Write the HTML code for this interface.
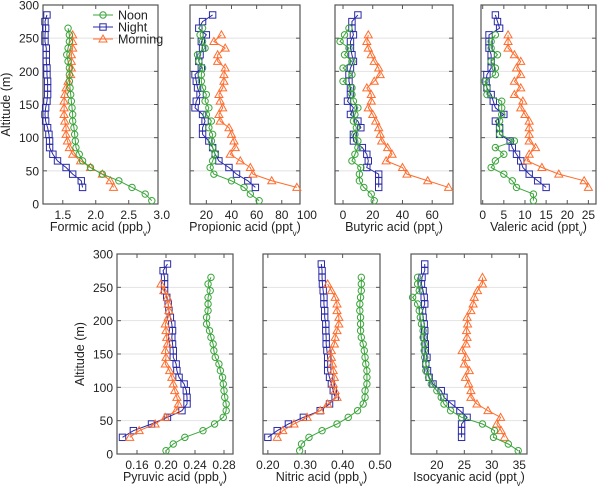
<!DOCTYPE html>
<html><head><meta charset="utf-8">
<style>
html,body{margin:0;padding:0;background:#fff;}
svg text{font-family:"Liberation Sans",Arial,sans-serif;fill:#222;}
</style></head>
<body>
<svg id="chart" width="600" height="491" viewBox="0 0 600 491" xmlns="http://www.w3.org/2000/svg"></svg>
<script>
// altitudes (m)
const altNoon = [5,15,25,35,45,55,65,75,85,95,105,115,125,135,145,155,165,175,185,195,205,215,225,235,245,255,265];
const altNight = [25,35,45,55,65,75,85,95,105,115,125,135,145,155,165,175,185,195,205,215,225,235,245,255,265,275,285];
const altMorning = [25,35,45,55,65,75,85,95,105,115,125,135,145,155,165,175,185,195,205,215,225,235,245,255];
const altMorningIso = [25,35,45,55,65,75,85,95,105,115,125,135,145,155,165,175,185,195,205,215,225,235,245,255,265];
const altNoonVal = [5,15,25,35,45,55,65,75,85,95,105,115,125,135,145,155,165,175,185,195,205,215,225,235,245,255];

// Formic acid (ppbv)
const formicNoon = [2.85,2.75,2.55,2.35,2.1,1.92,1.8,1.75,1.7,1.69,1.68,1.67,1.65,1.65,1.64,1.63,1.62,1.61,1.6,1.6,1.6,1.58,1.56,1.58,1.6,1.6,1.58];
const formicNight = [1.8,1.78,1.65,1.55,1.42,1.35,1.3,1.3,1.29,1.27,1.24,1.23,1.24,1.26,1.27,1.27,1.27,1.26,1.26,1.25,1.25,1.25,1.23,1.23,1.24,1.23,1.26];
const formicMorning = [2.27,2.22,2.1,1.92,1.77,1.65,1.6,1.57,1.55,1.55,1.53,1.52,1.52,1.52,1.53,1.55,1.58,1.62,1.63,1.63,1.63,1.65,1.65,1.65];
// Propionic acid (pptv)
const propNoon = [62,55,50,40,26,23,25,27,25,24,25,22,24,20,22,19,20,17,16,16,17,14,13,19,17,15,17];
const propNight = [59,53,44,38,30,27,25,22,17,17,19,17,11,12,15,13,12,11,16,14,15,17,16,20,14,17,25];
const propMorning = [92,72,57,55,47,39,43,42,40,38,31,30,33,31,30,33,34,34,35,29,29,35,26,32];
// Butyric acid (pptv)
const butNoon = [21,19,14,11,11,12,6,8,10,10,8,9,7,8,10,7,6,6,0,6,0,6,1,4,-2,1,4];
const butNight = [24,24,24,16,17,16,13,7,7,12,10,5,7,3,5,5,4,4,5,7,6,5,5,7,6,6,10];
const butMorning = [71,57,43,40,29,33,30,26,25,24,22,20,17,19,19,16,21,25,24,21,19,17,16,17];
// Valeric acid (pptv)
const valNoon = [12,12,8,7,5,2,3,5,3,7.5,4,4,4,4.5,4.5,4.5,1,1,0.5,3,3,2,3.5,2,2,3];
const valNight = [15,13,11,9.5,9,8,7,6.5,4,4,3,5,3,2.5,2,1,0.8,1,2,2,2,1.5,1.5,1.5,4,3.5,3];
const valMorning = [25,24,18,14,10.5,11,12.5,11,11,11,11,10,9,9.5,7.5,9,7.5,9,8,9,7.5,6,6,6];
// Pyruvic acid (ppbv)
const pyrNoon = [0.200,0.210,0.226,0.251,0.267,0.279,0.283,0.283,0.281,0.280,0.279,0.278,0.275,0.273,0.268,0.266,0.265,0.262,0.260,0.256,0.256,0.258,0.258,0.258,0.261,0.258,0.262];
const pyrNight = [0.140,0.155,0.180,0.202,0.222,0.229,0.229,0.228,0.225,0.218,0.215,0.214,0.210,0.210,0.209,0.208,0.209,0.208,0.206,0.204,0.203,0.201,0.198,0.198,0.198,0.196,0.202];
const pyrMorning = [0.150,0.163,0.185,0.199,0.214,0.217,0.215,0.212,0.210,0.208,0.205,0.199,0.200,0.199,0.202,0.201,0.200,0.199,0.203,0.204,0.203,0.202,0.197,0.193];
// Nitric acid (ppbv)
const nitNoon = [0.285,0.29,0.31,0.345,0.385,0.415,0.44,0.455,0.46,0.46,0.465,0.465,0.465,0.462,0.46,0.458,0.455,0.45,0.448,0.448,0.448,0.446,0.446,0.448,0.45,0.45,0.45];
const nitNight = [0.20,0.225,0.255,0.295,0.34,0.365,0.38,0.375,0.37,0.365,0.36,0.36,0.36,0.358,0.356,0.356,0.355,0.355,0.352,0.352,0.35,0.35,0.348,0.346,0.345,0.345,0.343];
const nitMorning = [0.225,0.24,0.27,0.305,0.34,0.36,0.385,0.38,0.375,0.378,0.375,0.373,0.37,0.37,0.378,0.38,0.385,0.39,0.39,0.385,0.385,0.38,0.37,0.36];
// Isocyanic acid (pptv)
const isoNoon = [34.8,33,30.3,30.5,28.3,24.5,22.5,21.3,20.8,20,19,18.5,18,18,17.8,17.7,17.7,17.5,17.5,17.2,17,16.8,16.5,15.6,16.8,16.5,16.5];
const isoNight = [24.5,24.5,24.5,25.5,24.2,22.7,21.3,20.8,19.3,18.6,18.3,18,18.2,17.9,17.9,17.7,17.8,17.7,17.5,17.4,17.8,17.7,17.5,17.2,17.3,17.8,17.8];
const isoMorning = [32.3,31.7,30.9,31.6,29.3,27.3,26.2,26.2,25.8,25.2,25.9,25.0,25.3,24.6,25.3,25.5,25.4,25.6,25.5,26.2,26.6,26.8,27.4,28.3,28.3];

const yTicks = [0,50,100,150,200,250,300];
const panels = [
 {name:'formic',title:'Formic acid (ppb',left:43,right:158,top:5,bottom:204,xmin:1.2,xmax:2.944,ticks:[1.5,2.0,2.5,3.0],fmt:1,ylab:true,
  noon:formicNoon,night:formicNight,morn:formicMorning,an:altNoon,am:altMorning},
 {name:'propionic',title:'Propionic acid (ppt',left:190,right:300,top:5,bottom:204,xmin:7,xmax:94.5,ticks:[20,40,60,80,100],fmt:0,
  noon:propNoon,night:propNight,morn:propMorning,an:altNoon,am:altMorning},
 {name:'butyric',title:'Butyric acid (ppt',left:335,right:453,top:5,bottom:204,xmin:-5.4,xmax:74,ticks:[0,20,40,60],fmt:0,
  noon:butNoon,night:butNight,morn:butMorning,an:altNoon,am:altMorning},
 {name:'valeric',title:'Valeric acid (ppt',left:481,right:596,top:5,bottom:204,xmin:-0.4,xmax:26.8,ticks:[0,5,10,15,20,25],fmt:0,
  noon:valNoon,night:valNight,morn:valMorning,an:altNoonVal,am:altMorning},
 {name:'pyruvic',title:'Pyruvic acid (ppb',left:117,right:233,top:254,bottom:454,xmin:0.1324,xmax:0.2924,ticks:[0.16,0.20,0.24,0.28],fmt:2,ylab:true,
  noon:pyrNoon,night:pyrNight,morn:pyrMorning,an:altNoon,am:altMorning},
 {name:'nitric',title:'Nitric acid (ppb',left:263,right:380,top:254,bottom:454,xmin:0.187,xmax:0.50,ticks:[0.20,0.30,0.40,0.50],fmt:2,
  noon:nitNoon,night:nitNight,morn:nitMorning,an:altNoon,am:altMorning},
 {name:'isocyanic',title:'Isocyanic acid (ppt',left:411,right:527,top:254,bottom:454,xmin:15.3,xmax:36.4,ticks:[20,25,30,35],fmt:0,
  noon:isoNoon,night:isoNight,morn:isoMorning,an:altNoon,am:altMorningIso}
];
const C = {noon:'#3aa53a',night:'#2a2aa8',morn:'#ff6d2e'};
const NS='http://www.w3.org/2000/svg';
const svg=document.getElementById('chart');
function mk(tag,attrs,parent){const e=document.createElementNS(NS,tag);for(const k in attrs)e.setAttribute(k,attrs[k]);(parent||svg).appendChild(e);return e;}

function marker(g,kind,x,y,color){
  let m;
  if(kind==='noon') m=mk('circle',{cx:x,cy:y,r:3.2,fill:'none',stroke:color,'stroke-width':1},g);
  else if(kind==='night') m=mk('rect',{x:x-3.2,y:y-3.2,width:6.4,height:6.4,fill:'none',stroke:color,'stroke-width':1},g);
  else m=mk('polygon',{points:`${x},${y-4} ${x-4},${y+3} ${x+4},${y+3}`,fill:'none',stroke:color,'stroke-width':1},g);
  
  
}

panels.forEach(p=>{
  const g=mk('g',{});
  
  
  const X=v=>p.left+(v-p.xmin)/(p.xmax-p.xmin)*(p.right-p.left);
  const Y=a=>p.bottom-a/300*(p.bottom-p.top);
  yTicks.forEach(t=>{
    if(t>0&&t<300){const l=mk('line',{x1:p.left,x2:p.right,y1:Y(t),y2:Y(t),stroke:'#e2e2e2','stroke-width':1},g);
      }
    mk('line',{x1:p.left,x2:p.left+4,y1:Y(t),y2:Y(t),stroke:'#555'},g);
    mk('line',{x1:p.right,x2:p.right-4,y1:Y(t),y2:Y(t),stroke:'#555'},g);
    if(p.ylab){const tx=mk('text',{x:p.left-4,y:Y(t)+4.5,'text-anchor':'end','font-size':12},g);tx.textContent=t;
      }
  });
  p.ticks.forEach(t=>{
    const x=X(t);
    if(x<=p.right+0.5){mk('line',{x1:x,x2:x,y1:p.bottom,y2:p.bottom-4,stroke:'#555'},g);
      mk('line',{x1:x,x2:x,y1:p.top,y2:p.top+4,stroke:'#555'},g);}
    const tx=mk('text',{x:x,y:p.bottom+15,'text-anchor':'middle','font-size':12},g);
    tx.textContent=t.toFixed(p.fmt);
    
  });
  const fr=mk('rect',{x:p.left,y:p.top,width:p.right-p.left,height:p.bottom-p.top,fill:'none',stroke:'#555','stroke-width':1.2},g);
  
  [['night',p.night,altNight],['morn',p.morn,p.am],['noon',p.noon,p.an]].forEach(([k,vals,alts])=>{
    const sg=mk('g',{},g);
    
    
    const pts=vals.map((v,i)=>[X(v),Y(alts[i])]);
    mk('polyline',{points:pts.map(q=>q.join(',')).join(' '),fill:'none',stroke:C[k],'stroke-width':1},sg);
    pts.forEach(q=>marker(sg,k,q[0],q[1],C[k]));
  });
  const ttl=mk('text',{x:(p.left+p.right)/2,y:p.bottom+27,'text-anchor':'middle','font-size':12.5},g);
  ttl.innerHTML=p.title+'<tspan baseline-shift="sub" font-size="8">v</tspan>)';
  
  if(p.ylab){const cy=(p.top+p.bottom)/2, cx=p.left-33;
    const yt=mk('text',{x:cx,y:cy,'text-anchor':'middle','font-size':12.5,transform:`rotate(-90 ${cx} ${cy})`},g);
    yt.textContent='Altitude (m)';
    }
});
const lg=mk('g',{});


[['noon','Noon',15],['night','Night',27],['morn','Morning',39]].forEach(([k,label,y])=>{
  const e=mk('g',{},lg);
  
  
  mk('line',{x1:93,x2:113,y1:y,y2:y,stroke:C[k]},e);
  marker(e,k,103,y,C[k]);
  const t=mk('text',{x:118,y:y+4.5,'font-size':12.5},e);t.textContent=label;
});
</script>
</body></html>
